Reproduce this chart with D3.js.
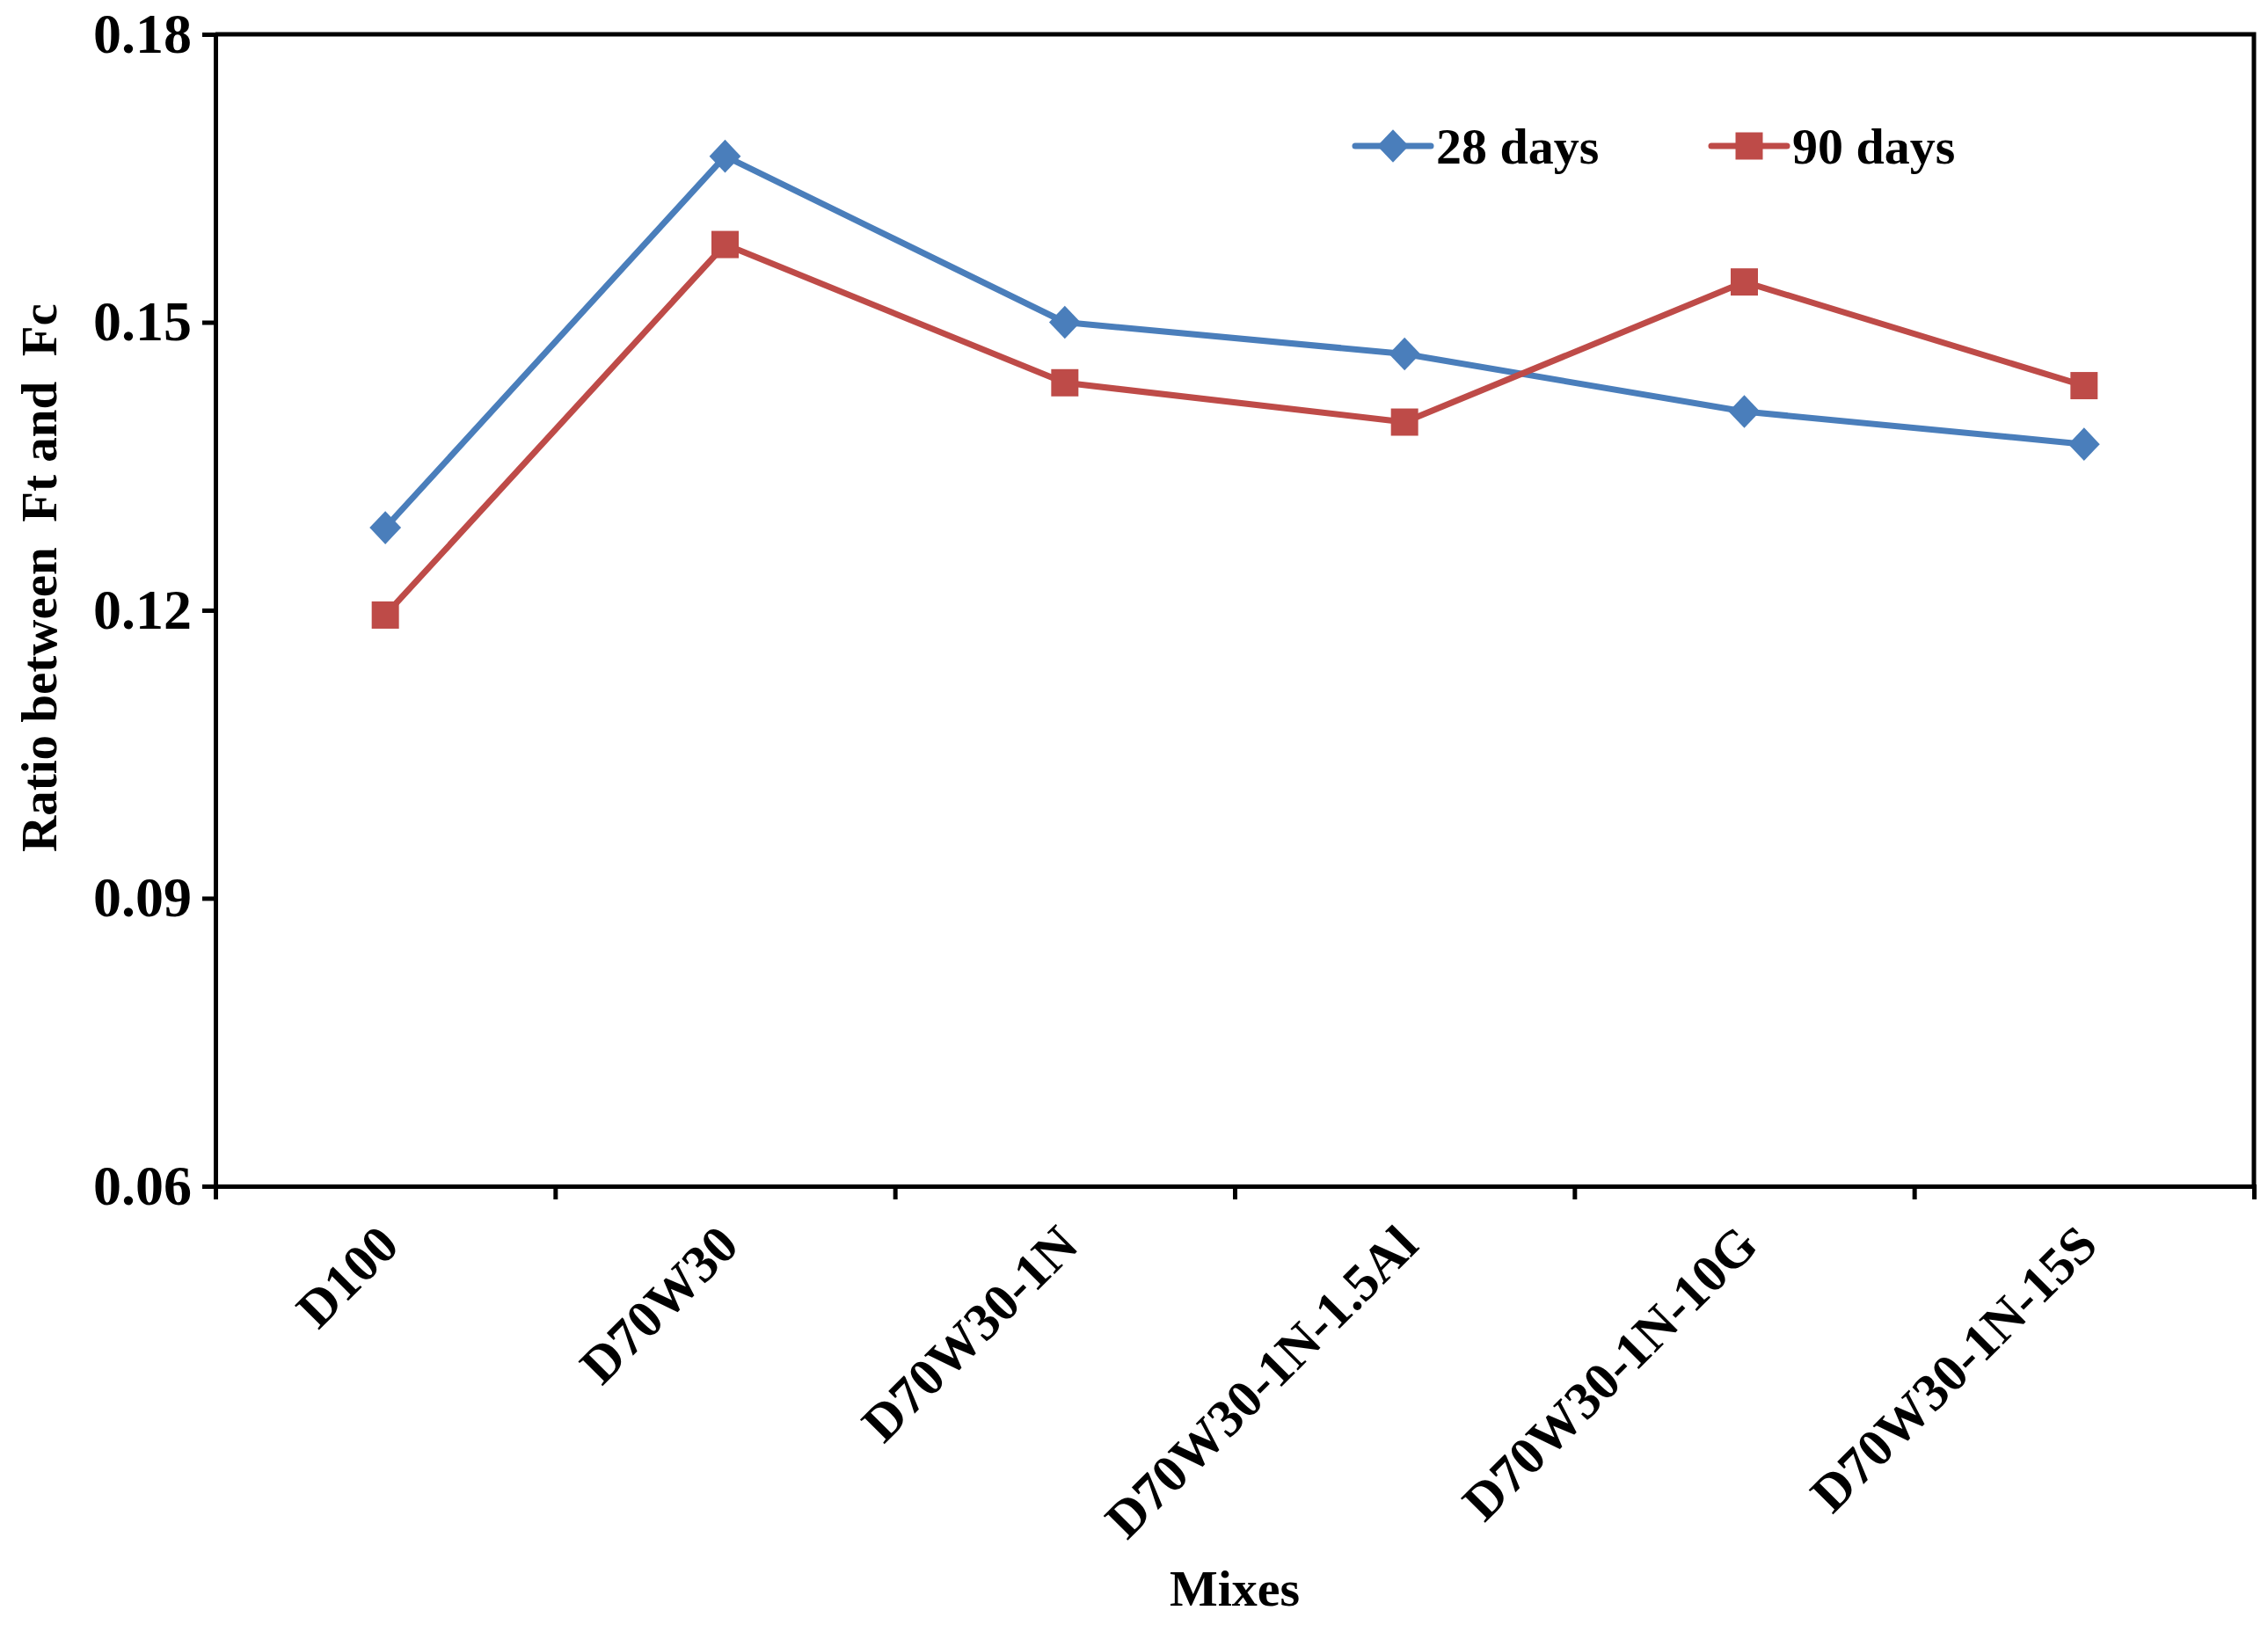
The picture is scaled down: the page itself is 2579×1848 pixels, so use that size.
<!DOCTYPE html>
<html>
  <head>
    <meta charset="utf-8">
    <title>Ratio between Ft and Fc</title>
    <script src="https://d3js.org/d3.v7.min.js"></script>
    <style>
      body { margin: 0; background: #fff; }
      text { font-family: "Liberation Serif", "Times New Roman", serif; font-weight: bold; }
    </style>
  </head>
  <body>
    <script type="text/javascript">
      var mixes = ['D100', 'D70W30', 'D70W30-1N', 'D70W30-1N-1.5Al', 'D70W30-1N-10G', 'D70W30-1N-15S'];
      var days28 = [0.1286, 0.1673, 0.1500, 0.1467, 0.1407, 0.1373];
      var days90 = [0.1195, 0.1581, 0.1437, 0.1396, 0.1542, 0.1434];
      var yTicks = [0.06, 0.09, 0.12, 0.15, 0.18];

      var W = 2579, H = 1848;
      var plotLeft = 245, plotRight = 2563, plotTop = 39, plotBottom = 1349;
      var blue = '#4a7ebb', red = '#be4b48';

      // excel-like diamond: same width and height
      var diamond = {
        draw: function(ctx, size) {
          var r = Math.sqrt(size / 2);
          ctx.moveTo(0, -r * 1.05);
          ctx.lineTo(r, 0);
          ctx.lineTo(0, r * 1.05);
          ctx.lineTo(-r, 0);
          ctx.closePath();
        }
      };

      var svg = d3.select('body')
                  .append('svg')
                  .attr('width', W)
                  .attr('height', H);

      var x = d3.scaleBand()
                .domain(mixes)
                .range([plotLeft, plotRight])
                .padding(0);
      var xEdge = d3.scaleLinear()
                    .domain([0, mixes.length])
                    .range([plotLeft, plotRight]);
      var y = d3.scaleLinear()
                .domain([0.06, 0.18])
                .range([plotBottom, plotTop]);
      var cx = function(d) { return x(d) + x.bandwidth() / 2; };

      // plot frame (top and right)
      svg.append('path')
         .attr('d', 'M' + plotLeft + ',' + plotTop + 'H' + plotRight + 'V' + plotBottom)
         .attr('fill', 'none')
         .attr('stroke', '#000')
         .attr('stroke-width', 5);

      var yAxis = svg.append('g')
                     .attr('transform', 'translate(' + plotLeft + ',0)')
                     .call(d3.axisLeft(y).tickValues(yTicks).tickFormat(d3.format('.2f')).tickSize(15).tickPadding(12));
      var xAxis = svg.append('g')
                     .attr('transform', 'translate(0,' + plotBottom + ')')
                     .call(d3.axisBottom(xEdge).ticks(mixes.length).tickFormat('').tickSize(15));
      [yAxis, xAxis].forEach(function(g) {
        g.select('.domain').attr('stroke', '#000').attr('stroke-width', 5);
        g.selectAll('.tick line').attr('stroke', '#000').attr('stroke-width', 5);
      });
      yAxis.selectAll('.tick text')
           .attr('font-size', 64)
           .attr('font-family', '"Liberation Serif", serif')
           .attr('fill', '#000');

      // category labels
      svg.append('g')
         .selectAll('text')
         .data(mixes)
         .enter()
           .append('text')
           .attr('transform', function(d) { return 'translate(' + (cx(d) + 18) + ',' + (plotBottom + 70) + ') rotate(-45)'; })
           .attr('text-anchor', 'end')
           .attr('font-size', 60)
           .text(function(d) { return d; });

      // axis titles
      svg.append('text')
         .attr('x', (plotLeft + plotRight) / 2)
         .attr('y', 1826)
         .attr('text-anchor', 'middle')
         .attr('font-size', 58)
         .text('Mixes');
      svg.append('text')
         .attr('transform', 'translate(64,' + 657 + ') rotate(-90)')
         .attr('text-anchor', 'middle')
         .attr('font-size', 57)
         .style('white-space', 'pre')
         .text('Ratio between  Ft and  Fc');

      var line = d3.line()
                   .x(function(d, i) { return cx(mixes[i]); })
                   .y(function(d) { return y(d); });

      var series = [
        { name: '28 days', values: days28, color: blue, shape: diamond, size: 640 },
        { name: '90 days', values: days90, color: red, shape: d3.symbolSquare, size: 960 }
      ];

      series.forEach(function(s) {
        svg.append('path')
           .datum(s.values)
           .attr('d', line)
           .attr('fill', 'none')
           .attr('stroke', s.color)
           .attr('stroke-width', 7)
           .attr('stroke-linejoin', 'round');
        svg.append('g')
           .selectAll('path')
           .data(s.values)
           .enter()
             .append('path')
             .attr('transform', function(d, i) { return 'translate(' + cx(mixes[i]) + ',' + y(d) + ')'; })
             .attr('d', d3.symbol().type(s.shape).size(s.size))
             .attr('fill', s.color);
      });

      // legend
      var legendX = [1541, 1946];
      var legend = svg.append('g')
                      .selectAll('g')
                      .data(series)
                      .enter()
                        .append('g')
                        .attr('transform', function(d, i) { return 'translate(' + legendX[i] + ',166)'; });
      legend.append('line')
            .attr('x1', 0).attr('x2', 86)
            .attr('stroke', function(d) { return d.color; })
            .attr('stroke-width', 7)
            .attr('stroke-linecap', 'round');
      legend.append('path')
            .attr('transform', 'translate(43,0)')
            .attr('d', function(d) { return d3.symbol().type(d.shape).size(d.size)(); })
            .attr('fill', function(d) { return d.color; });
      legend.append('text')
            .attr('x', 92)
            .attr('y', 20)
            .attr('font-size', 58)
            .text(function(d) { return d.name; });
    </script>
  </body>
</html>
